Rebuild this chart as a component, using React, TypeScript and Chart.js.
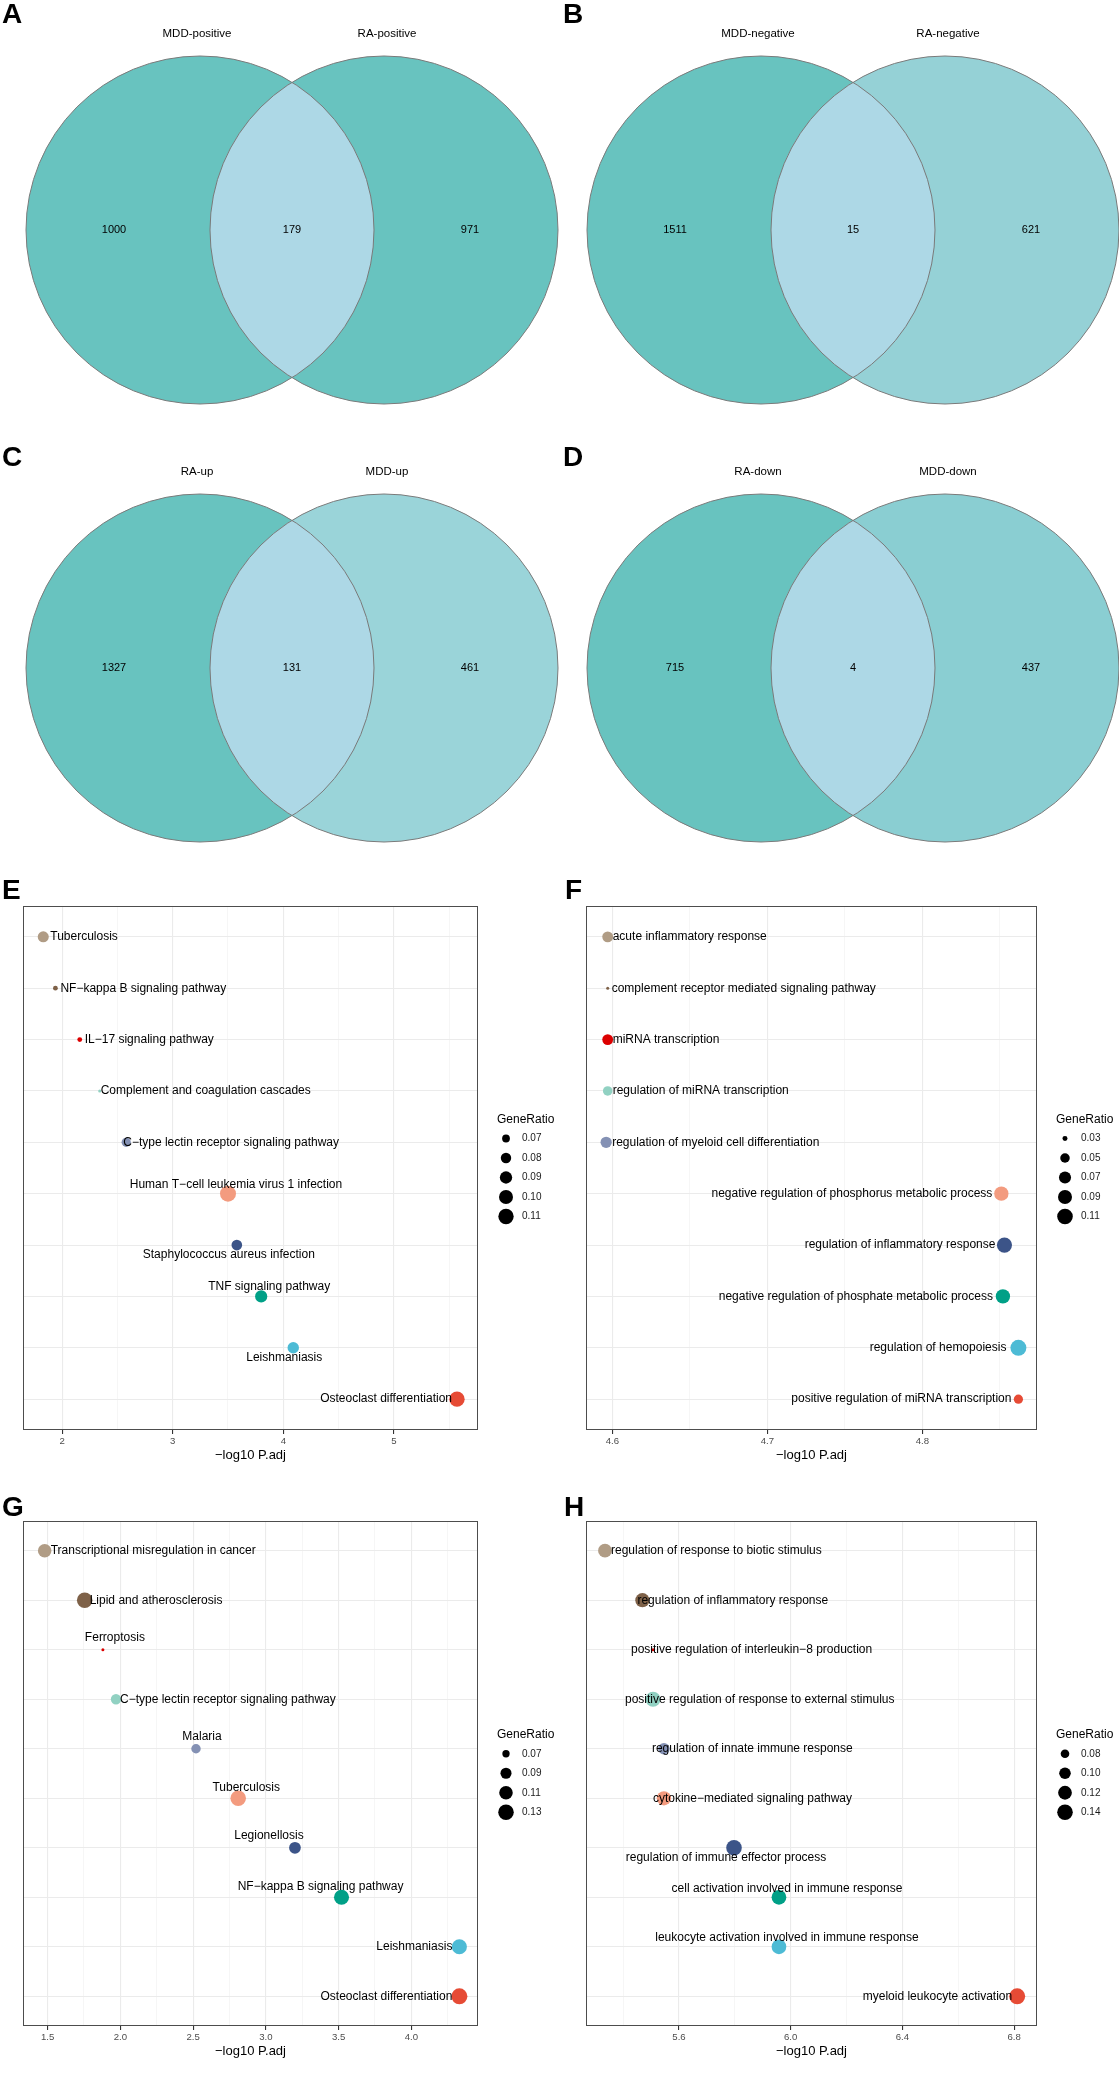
import React, { useEffect, useRef } from 'react';
import { Chart, registerables } from 'chart.js';

Chart.register(...registerables);

const FONT = '"Liberation Sans", Arial, Helvetica, sans-serif';

// ---------------- Venn data ----------------
const vennLetters = ['A', 'B', 'C', 'D'];
const vennLeftNames = ['MDD-positive', 'MDD-negative', 'RA-up', 'RA-down'];
const vennRightNames = ['RA-positive', 'RA-negative', 'MDD-up', 'MDD-down'];
const vennLeftOnly = [1000, 1511, 1327, 715];
const vennShared = [179, 15, 131, 4];
const vennRightOnly = [971, 621, 461, 437];

// ---------------- Enrichment data ----------------
const rowColors = ['#B09C85', '#7E6148', '#DC0000', '#91D1C2', '#8491B4', '#F39B7F', '#3C5488', '#00A087', '#4DBBD5', '#E64B35'];

// E
const eTerms = ['Tuberculosis', 'NF\u2212kappa B signaling pathway', 'IL\u221217 signaling pathway', 'Complement and coagulation cascades', 'C\u2212type lectin receptor signaling pathway', 'Human T\u2212cell leukemia virus 1 infection', 'Staphylococcus aureus infection', 'TNF signaling pathway', 'Leishmaniasis', 'Osteoclast differentiation'];
const ePadj = [1.83, 1.94, 2.16, 2.34, 2.58, 3.5, 3.58, 3.8, 4.09, 5.57];
const eRatio = [0.083, 0.064, 0.064, 0.063, 0.075, 0.115, 0.081, 0.089, 0.085, 0.11];
const eTicks = [2, 3, 4, 5];
const eTickLabels = ['2', '3', '4', '5'];
const eMinor = [2.5, 3.5, 4.5, 5.5];
const eLegend = [0.07, 0.08, 0.09, 0.1, 0.11];
const eLegendLabels = ['0.07', '0.08', '0.09', '0.10', '0.11'];

// F
const fTerms = ['acute inflammatory response', 'complement receptor mediated signaling pathway', 'miRNA transcription', 'regulation of miRNA transcription', 'regulation of myeloid cell differentiation', 'negative regulation of phosphorus metabolic process', 'regulation of inflammatory response', 'negative regulation of phosphate metabolic process', 'regulation of hemopoiesis', 'positive regulation of miRNA transcription'];
const fPadj = [4.597, 4.597, 4.597, 4.597, 4.596, 4.851, 4.853, 4.852, 4.862, 4.862];
const fRatio = [0.06, 0.028, 0.06, 0.05, 0.063, 0.094, 0.104, 0.094, 0.115, 0.048];
const fTicks = [4.6, 4.7, 4.8];
const fTickLabels = ['4.6', '4.7', '4.8'];
const fMinor = [4.65, 4.75, 4.85];
const fLegend = [0.03, 0.05, 0.07, 0.09, 0.11];
const fLegendLabels = ['0.03', '0.05', '0.07', '0.09', '0.11'];

// G
const gTerms = ['Transcriptional misregulation in cancer', 'Lipid and atherosclerosis', 'Ferroptosis', 'C\u2212type lectin receptor signaling pathway', 'Malaria', 'Tuberculosis', 'Legionellosis', 'NF\u2212kappa B signaling pathway', 'Leishmaniasis', 'Osteoclast differentiation'];
const gPadj = [1.48, 1.755, 1.88, 1.97, 2.52, 2.81, 3.2, 3.52, 4.33, 4.33];
const gRatio = [0.11, 0.13, 0.062, 0.085, 0.08, 0.13, 0.095, 0.125, 0.125, 0.135];
const gTicks = [1.5, 2, 2.5, 3, 3.5, 4];
const gTickLabels = ['1.5', '2.0', '2.5', '3.0', '3.5', '4.0'];
const gMinor = [1.75, 2.25, 2.75, 3.25, 3.75, 4.25];
const gLegend = [0.07, 0.09, 0.11, 0.13];
const gLegendLabels = ['0.07', '0.09', '0.11', '0.13'];

// H
const hTerms = ['regulation of response to biotic stimulus', 'regulation of inflammatory response', 'positive regulation of interleukin\u22128 production', 'positive regulation of response to external stimulus', 'regulation of innate immune response', 'cytokine\u2212mediated signaling pathway', 'regulation of immune effector process', 'cell activation involved in immune response', 'leukocyte activation involved in immune response', 'myeloid leukocyte activation'];
const hPadj = [5.335, 5.469, 5.507, 5.507, 5.546, 5.546, 5.797, 5.958, 5.958, 6.811];
const hRatio = [0.12, 0.125, 0.065, 0.135, 0.1, 0.125, 0.14, 0.13, 0.13, 0.145];
const hTicks = [5.6, 6.0, 6.4, 6.8];
const hTickLabels = ['5.6', '6.0', '6.4', '6.8'];
const hMinor = [5.4, 5.8, 6.2, 6.6];
const hLegend = [0.08, 0.1, 0.12, 0.14];
const hLegendLabels = ['0.08', '0.10', '0.12', '0.14'];

// ---------------- label placement (style) ----------------
type Place = [number, number, CanvasTextAlign];
const ePlace: Place[] = [[7, 0, 'left'], [5, 0, 'left'], [5, 0, 'left'], [1, 0, 'left'], [-3, 0, 'left'], [8, -9, 'center'], [-8, 10, 'center'], [8, -10, 'center'], [-9, 10, 'center'], [-5, 0, 'right']];
const fPlace: Place[] = [[5, 0, 'left'], [4, 0, 'left'], [5, 0, 'left'], [5, 0, 'left'], [6, 0, 'left'], [-9, 0, 'right'], [-9, 0, 'right'], [-10, 0, 'right'], [-12, 0, 'right'], [-7, 0, 'right']];
const gPlace: Place[] = [[6, 0, 'left'], [5, 0, 'left'], [12, -12, 'center'], [4, 0, 'left'], [6, -12, 'center'], [8, -11, 'center'], [-26, -12, 'center'], [-21, -11, 'center'], [-7, 0, 'right'], [-7, 0, 'right']];
const hPlace: Place[] = [[6, 0, 'left'], [-5, 0, 'left'], [-22, 0, 'left'], [-28, 0, 'left'], [-12, 0, 'left'], [-11, 0, 'left'], [-8, 10, 'center'], [8, -9, 'center'], [8, -9, 'center'], [-5, 0, 'right']];

interface Panel {
  terms: string[]; padj: number[]; ratio: number[];
  xMin: number; xMax: number;
  ticks: number[]; tickLabels: string[]; minor: number[];
  legend: number[]; legendLabels: string[];
  vmin: number; vmax: number;
  place: Place[];
  padL: number; padR: number;
}

const panels: Record<string, Panel> = {
  E: { terms: eTerms, padj: ePadj, ratio: eRatio, xMin: 1.647, xMax: 5.76, ticks: eTicks, tickLabels: eTickLabels, minor: eMinor, legend: eLegend, legendLabels: eLegendLabels, vmin: 0.063, vmax: 0.115, place: ePlace, padL: 23, padR: 83 },
  F: { terms: fTerms, padj: fPadj, ratio: fRatio, xMin: 4.583, xMax: 4.874, ticks: fTicks, tickLabels: fTickLabels, minor: fMinor, legend: fLegend, legendLabels: fLegendLabels, vmin: 0.028, vmax: 0.115, place: fPlace, padL: 25, padR: 82 },
  G: { terms: gTerms, padj: gPadj, ratio: gRatio, xMin: 1.331, xMax: 4.458, ticks: gTicks, tickLabels: gTickLabels, minor: gMinor, legend: gLegend, legendLabels: gLegendLabels, vmin: 0.062, vmax: 0.135, place: gPlace, padL: 23, padR: 83 },
  H: { terms: hTerms, padj: hPadj, ratio: hRatio, xMin: 5.267, xMax: 6.882, ticks: hTicks, tickLabels: hTickLabels, minor: hMinor, legend: hLegend, legendLabels: hLegendLabels, vmin: 0.065, vmax: 0.145, place: hPlace, padL: 25, padR: 82 },
};

const sizeOf = (p: Panel, v: number) => {
  const t = Math.max(0, Math.min(1, (v - p.vmin) / (p.vmax - p.vmin)));
  return 1.5 + (8 - 1.5) * Math.sqrt(t);
};
const isMajor = (p: Panel, v: number) => p.ticks.some((t) => Math.abs(t - v) < 1e-9);

const bubbleDecor = {
  id: 'bubbleDecor',
  afterDatasetsDraw(chart: any, _args: any, opts: any) {
    const p: Panel = opts.panel;
    const { ctx, chartArea: a } = chart;
    ctx.save();
    // panel border
    ctx.strokeStyle = '#4d4d4d';
    ctx.lineWidth = 1;
    ctx.strokeRect(Math.round(a.left) + 0.5, Math.round(a.top) + 0.5, Math.round(a.right - a.left) - 1, Math.round(a.bottom - a.top) - 1);
    // point labels
    const meta = chart.getDatasetMeta(0);
    ctx.font = `12px ${FONT}`;
    ctx.fillStyle = '#000';
    ctx.textBaseline = 'middle';
    meta.data.forEach((pt: any, i: number) => {
      const [dx, dy, al] = p.place[i];
      ctx.textAlign = al;
      ctx.fillText(p.terms[i], pt.x + dx, pt.y + dy);
    });
    // size legend
    const dotX = a.right + 28;
    const n = p.legend.length;
    const span = 19 + (n - 1) * 19.5;
    const mid = (a.top + a.bottom) / 2;
    const titleY = mid - span / 2;
    ctx.textAlign = 'left';
    ctx.font = `12px ${FONT}`;
    ctx.fillText('GeneRatio', dotX - 9, titleY);
    ctx.font = `10px ${FONT}`;
    p.legend.forEach((v, k) => {
      const y = titleY + 19 + k * 19.5;
      ctx.beginPath();
      ctx.arc(dotX, y, sizeOf(p, v), 0, Math.PI * 2);
      ctx.fillStyle = '#000';
      ctx.fill();
      ctx.fillStyle = '#1a1a1a';
      ctx.fillText(p.legendLabels[k], dotX + 16, y);
    });
    ctx.restore();
  },
};

function bubbleConfig(key: string): any {
  const p = panels[key];
  return {
    type: 'scatter',
    data: {
      datasets: [{
        data: p.padj.map((x, i) => ({ x, y: i })),
        pointRadius: (c: any) => sizeOf(p, p.ratio[c.dataIndex]),
        pointBackgroundColor: rowColors,
        pointBorderWidth: 0,
        pointBorderColor: 'rgba(0,0,0,0)',
        clip: false,
      }],
    },
    options: {
      animation: false,
      responsive: false,
      events: [],
      layout: { padding: { top: 10, left: p.padL, right: p.padR, bottom: 0 } },
      plugins: { legend: { display: false }, tooltip: { enabled: false }, bubbleDecor: { panel: p } },
      scales: {
        x: {
          type: 'linear', min: p.xMin, max: p.xMax,
          afterBuildTicks: (s: any) => {
            s.ticks = [...p.ticks, ...p.minor].filter((v) => v >= p.xMin && v <= p.xMax).sort((a, b) => a - b).map((v) => ({ value: v }));
          },
          afterFit: (s: any) => { s.height = 33; },
          ticks: {
            autoSkip: false, maxRotation: 0, padding: 2, color: '#4D4D4D',
            font: { size: 9.6, family: FONT },
            callback: (v: any) => {
              const idx = p.ticks.findIndex((t) => Math.abs(t - v) < 1e-9);
              return idx >= 0 ? p.tickLabels[idx] : '';
            },
          },
          grid: {
            color: (c: any) => (c.tick && isMajor(p, c.tick.value) ? '#EBEBEB' : '#F2F2F2'),
            lineWidth: (c: any) => (c.tick && isMajor(p, c.tick.value) ? 1.1 : 0.7),
            tickColor: (c: any) => (c.tick && isMajor(p, c.tick.value) ? '#333333' : 'rgba(0,0,0,0)'),
            tickLength: 4,
            drawTicks: true,
          },
          border: { display: false },
          title: { display: true, text: '\u2212log10 P.adj', color: '#000', font: { size: 13, family: FONT }, padding: { top: 0, bottom: 0 } },
        },
        y: {
          type: 'linear', min: -0.6, max: 9.6, reverse: true,
          afterBuildTicks: (s: any) => { s.ticks = p.terms.map((_, i) => ({ value: i })); },
          afterFit: (s: any) => { s.width = 0; },
          ticks: { display: false },
          grid: { color: '#EBEBEB', lineWidth: 1.1, drawTicks: false },
          border: { display: false },
        },
      },
    },
    plugins: [bubbleDecor],
  };
}

// ---------------- Venn ----------------
const vennRightColors = ['#68C3BF', '#95D1D6', '#9AD4D9', '#8ACED2'];
const VENN_LEFT_FILL = '#68C3BF';
const VENN_INTER_FILL = '#ADD8E6';

const vennPlugin = {
  id: 'venn',
  afterDraw(chart: any, _a: any, opts: any) {
    const i: number = opts.index;
    const { ctx } = chart;
    const xs = chart.scales.x;
    const ys = chart.scales.y;
    const px = (v: number) => xs.getPixelForValue(v);
    const py = (v: number) => ys.getPixelForValue(v);
    const r = px(174) - px(0);
    const lx = px(200);
    const rx = px(384);
    const cy = py(230);
    const circ = (x: number) => { ctx.beginPath(); ctx.arc(x, cy, r, 0, Math.PI * 2); };
    ctx.save();
    circ(lx); ctx.fillStyle = VENN_LEFT_FILL; ctx.fill();
    circ(rx); ctx.fillStyle = vennRightColors[i]; ctx.fill();
    ctx.save();
    circ(lx); ctx.clip();
    circ(rx); ctx.fillStyle = VENN_INTER_FILL; ctx.fill();
    ctx.restore();
    ctx.strokeStyle = '#7A7A7A';
    ctx.lineWidth = 1;
    circ(lx); ctx.stroke();
    circ(rx); ctx.stroke();
    ctx.fillStyle = '#000';
    ctx.textBaseline = 'middle';
    ctx.textAlign = 'center';
    ctx.font = `11.5px ${FONT}`;
    ctx.fillText(vennLeftNames[i], px(197), py(34));
    ctx.fillText(vennRightNames[i], px(387), py(34));
    ctx.font = `11px ${FONT}`;
    ctx.fillText(String(vennLeftOnly[i]), px(114), cy);
    ctx.fillText(String(vennShared[i]), px(292), cy);
    ctx.fillText(String(vennRightOnly[i]), px(470), cy);
    ctx.restore();
  },
};

function vennConfig(i: number, w: number, h: number): any {
  return {
    type: 'scatter',
    data: { datasets: [] },
    options: {
      animation: false,
      responsive: false,
      events: [],
      layout: { padding: 0 },
      plugins: { legend: { display: false }, tooltip: { enabled: false }, venn: { index: i } },
      scales: {
        x: { type: 'linear', display: false, min: 0, max: w },
        y: { type: 'linear', display: false, min: 0, max: h, reverse: true },
      },
    },
    plugins: [vennPlugin],
  };
}

// ---------------- components ----------------
function ChartCanvas(props: { make: () => any; left: number; top: number; width: number; height: number }) {
  const ref = useRef<HTMLCanvasElement>(null);
  useEffect(() => {
    const chart = new Chart(ref.current as HTMLCanvasElement, props.make());
    return () => chart.destroy();
  }, []);
  return (
    <canvas
      ref={ref}
      width={props.width}
      height={props.height}
      style={{ position: 'absolute', left: props.left, top: props.top, width: props.width, height: props.height }}
    />
  );
}

function Letter(props: { text: string; left: number; capTop: number }) {
  return (
    <div style={{ position: 'absolute', left: props.left, top: props.capTop - 4, fontFamily: FONT, fontWeight: 'bold', fontSize: 28, lineHeight: '28px', color: '#000' }}>
      {props.text}
    </div>
  );
}

export default function App() {
  const LW = 561;
  const RW = 558;
  const VH = 440;
  return (
    <div style={{ position: 'absolute', left: 0, top: 0, width: 1119, height: 2075, background: '#fff', overflow: 'hidden' }}>
      <ChartCanvas make={() => vennConfig(0, LW, VH)} left={0} top={0} width={LW} height={VH} />
      <ChartCanvas make={() => vennConfig(1, RW, VH)} left={LW} top={0} width={RW} height={VH} />
      <ChartCanvas make={() => vennConfig(2, LW, VH)} left={0} top={438} width={LW} height={VH} />
      <ChartCanvas make={() => vennConfig(3, RW, VH)} left={LW} top={438} width={RW} height={VH} />
      <ChartCanvas make={() => bubbleConfig('E')} left={0} top={896} width={LW} height={567} />
      <ChartCanvas make={() => bubbleConfig('F')} left={LW} top={896} width={RW} height={567} />
      <ChartCanvas make={() => bubbleConfig('G')} left={0} top={1511} width={LW} height={548} />
      <ChartCanvas make={() => bubbleConfig('H')} left={LW} top={1511} width={RW} height={548} />
      {vennLetters.map((l, k) => (
        <Letter key={l} text={l} left={k % 2 === 0 ? 2 : 563} capTop={k < 2 ? 4 : 447} />
      ))}
      <Letter text="E" left={2} capTop={880} />
      <Letter text="F" left={565} capTop={880} />
      <Letter text="G" left={2} capTop={1497} />
      <Letter text="H" left={564} capTop={1497} />
    </div>
  );
}
